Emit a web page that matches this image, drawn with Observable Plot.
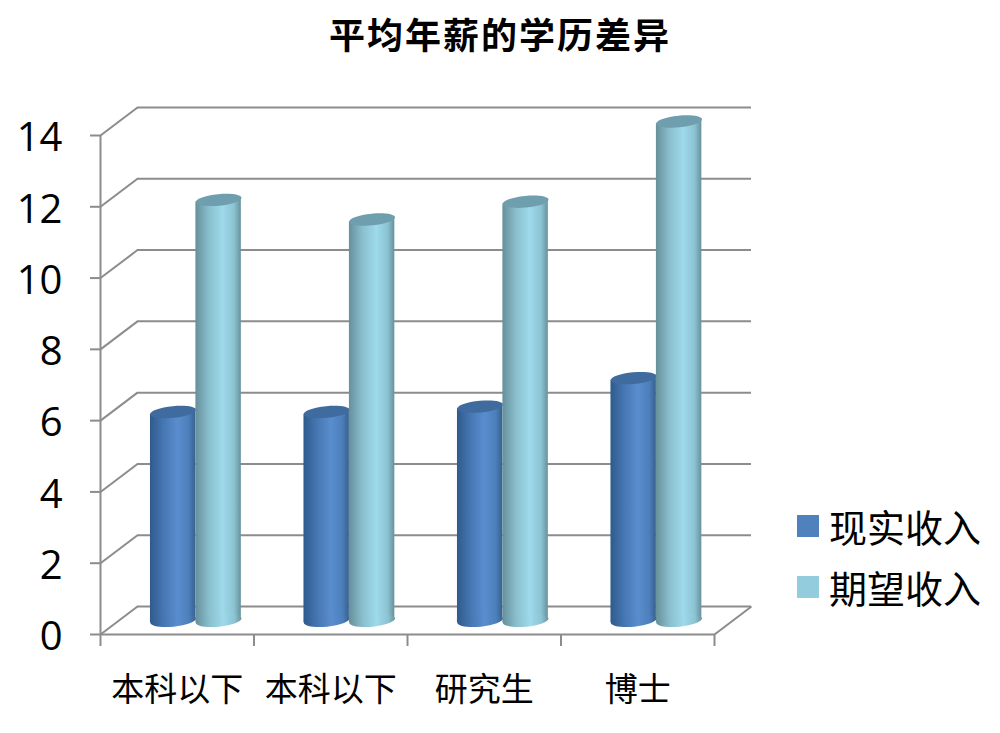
<!DOCTYPE html>
<html><head><meta charset="utf-8">
<script src="https://cdn.jsdelivr.net/npm/d3@7"></script>
<script src="https://cdn.jsdelivr.net/npm/@observablehq/plot@0.6"></script>
<style>
html,body{margin:0;padding:0;background:#fff;overflow:hidden}
#page{position:relative;width:1000px;height:733px;font-family:"Noto Sans CJK SC",sans-serif;color:#000}
#title{height:70px;line-height:67px;text-align:center;font-size:36px;font-weight:700;letter-spacing:2px}
#chart svg{display:block}
.lg{position:absolute;left:797px;display:flex;align-items:center;font-size:38px;line-height:40px}
.lg i{display:block;width:22px;height:22px;margin-right:10px}
</style></head><body>
<div id="page">
<div id="title">平均年薪的学历差异</div>
<div id="chart"></div>
<div class="lg" style="top:506px"><i style="background:#4f81bd"></i>现实收入</div>
<div class="lg" style="top:567px"><i style="background:#93cddd"></i>期望收入</div>
</div>
<script>
const categories = ["本科以下", "本科以下", "研究生", "博士"];
const actualIncome = [5.85, 5.85, 6.0, 6.8];
const expectedIncome = [11.8, 11.25, 11.75, 14];
const yTicks = [0, 2, 4, 6, 8, 10, 12, 14];
const xTicks = [0, 1, 2, 3, 4];

const width = 1000, height = 663;
const marginLeft = 100, marginRight = 286, marginTop = 65, marginBottom = 99;
const pxPerY = (height - marginTop - marginBottom) / 14;
const pxPerX = (width - marginLeft - marginRight) / 4;
const gray = "#8c8c8c";
// depth of the 3D box and of the bars inside it
const wallDx = 37, wallDy = -28, barDx = 18.5, barDy = -14;
const barStart = 0.205, barW = 0.296;
const tilt = 5.5 * Math.PI / 180;
const rx = 23, ryTop = 5.8, ryBase = 6.2;
const lift = rx * Math.sin(tilt) / pxPerY;

function ellipse(ry) {
  const c = Math.cos(tilt), s = Math.sin(tilt), k = 0.5523;
  const U = [rx * c, -rx * s], V = [ry * s, ry * c];
  return {draw(p) {
    const pt = (a, b) => [a * U[0] + b * V[0], a * U[1] + b * V[1]];
    p.moveTo(...pt(1, 0));
    p.bezierCurveTo(...pt(1, k), ...pt(k, 1), ...pt(0, 1));
    p.bezierCurveTo(...pt(-k, 1), ...pt(-1, k), ...pt(-1, 0));
    p.bezierCurveTo(...pt(-1, -k), ...pt(-k, -1), ...pt(0, -1));
    p.bezierCurveTo(...pt(k, -1), ...pt(1, -k), ...pt(1, 0));
    p.closePath();
  }};
}

function cylinder(values, offset, gradient, topColor) {
  const tops = values.map((v, i) => ({x: i + barStart + offset * barW + barW / 2, v}));
  const body = tops.flatMap((d, i) => [
    {k: i, x: d.x - barW / 2, y1: -lift, y2: d.v - lift},
    {k: i, x: d.x + barW / 2, y1: lift, y2: d.v + lift}
  ]);
  const off = {dx: barDx, dy: barDy};
  return [
    Plot.area(body, {x1: "x", y1: "y1", y2: "y2", z: "k", fill: gradient, ...off}),
    Plot.dot(tops, {x: "x", y: () => 0, r: 1, symbol: ellipse(ryBase), fill: gradient, stroke: "none", ...off}),
    Plot.dot(tops, {x: "x", y: "v", r: 1, symbol: ellipse(ryTop), fill: topColor, stroke: "none", ...off})
  ];
}

const plot = Plot.plot({
  width, height, marginLeft, marginRight, marginTop, marginBottom,
  x: {type: "linear", domain: [0, 4], axis: null},
  y: {type: "linear", domain: [0, 14], axis: null},
  marks: [
    // back wall gridlines
    Plot.ruleY(yTicks, {x1: 0, x2: 4, dx: wallDx, dy: wallDy, stroke: gray, strokeWidth: 2}),
    // side wall diagonals
    Plot.link(yTicks, {x1: () => 0, x2: () => wallDx / pxPerX, y1: d => d, y2: d => d - wallDy / pxPerY, stroke: gray, strokeWidth: 2}),
    // floor right edge
    Plot.link([0], {x1: () => 4, x2: () => 4 + wallDx / pxPerX, y1: () => 0, y2: () => -wallDy / pxPerY, stroke: gray, strokeWidth: 2}),
    // front floor edge and vertical axis
    Plot.ruleY([0], {x1: 0, x2: 4, stroke: gray, strokeWidth: 2}),
    Plot.ruleX([0], {y1: 0, y2: 14, stroke: gray, strokeWidth: 2}),
    Plot.axisY({ticks: yTicks, tickSize: 10, text: null, stroke: gray, strokeWidth: 2, label: null}),
    Plot.axisY({ticks: yTicks, tickSize: 0, tickPadding: 38, dy: 3, fontSize: 40, fontFamily: "Open Sans", fill: "#000", label: null}),
    // x ticks hang below the floor edge
    Plot.ruleX(xTicks, {y1: 0, y2: -12 / pxPerY, stroke: gray, strokeWidth: 2}),
    Plot.text(categories, {x: (d, i) => i + 0.5, y: () => 0, text: d => d, dy: 56, fontSize: 33, fontFamily: "Noto Sans CJK SC", fill: "#000"}),
    ...cylinder(actualIncome, 0, "url(#gBlue)", "#3f6b9f"),
    ...cylinder(expectedIncome, 1, "url(#gLight)", "#6f9fae")
  ]
});

const ns = "http://www.w3.org/2000/svg";
const defs = document.createElementNS(ns, "defs");
const grad = (id, stops) => {
  const g = document.createElementNS(ns, "linearGradient");
  g.setAttribute("id", id);
  stops.forEach(([o, c]) => {
    const s = document.createElementNS(ns, "stop");
    s.setAttribute("offset", o); s.setAttribute("stop-color", c);
    g.appendChild(s);
  });
  defs.appendChild(g);
};
grad("gBlue", [[0, "#2f5a8c"], [0.3, "#4677b3"], [0.6, "#5a8dce"], [0.85, "#4c7fbb"], [1, "#37618f"]]);
grad("gLight", [[0, "#66909a"], [0.3, "#8abfce"], [0.6, "#9ddaeb"], [0.85, "#8cc3d2"], [1, "#66929c"]]);
plot.prepend(defs);
document.getElementById("chart").appendChild(plot);
</script>
</body></html>
